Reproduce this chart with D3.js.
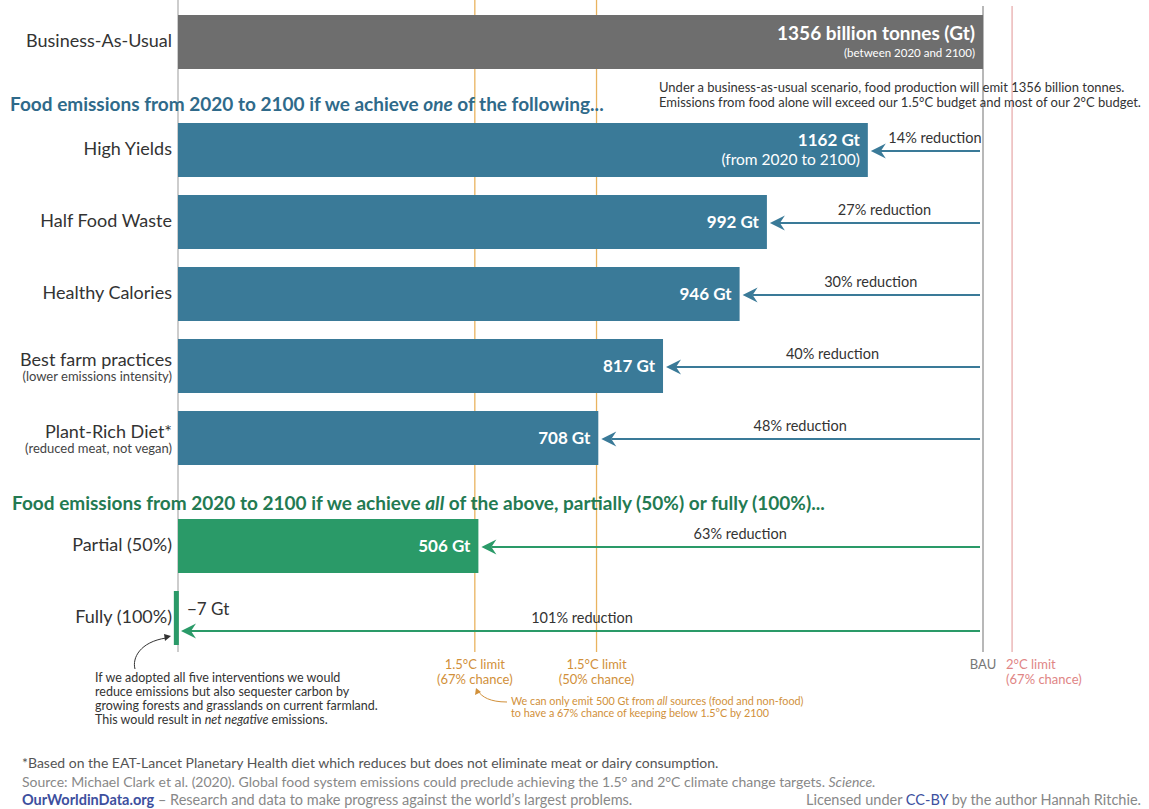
<!DOCTYPE html>
<html>
<head>
<meta charset="utf-8">
<script src="https://cdn.jsdelivr.net/npm/d3@7"></script>
<style>
  body { margin: 0; background: #fff; }
  svg { font-family: Lato, "Open Sans", sans-serif; }
</style>
</head>
<body>
<div id="chart"></div>
<script>
// data
const categories = ["Business-As-Usual", "High Yields", "Half Food Waste", "Healthy Calories",
  "Best farm practices", "Plant-Rich Diet*", "Partial (50%)", "Fully (100%)"];
const subLabels = ["", "", "", "", "(lower emissions intensity)", "(reduced meat, not vegan)", "", ""];
const groups = ["bau", "one", "one", "one", "one", "one", "all", "all"];
const emissions = [1356, 1162, 992, 946, 817, 708, 506, -7];
const reductions = [null, 14, 27, 30, 40, 48, 63, 101];
const limitValues = [500, 705];
const limitNames = ["(67% chance)", "(50% chance)"];
const twoDegree = 1405;

const width = 1149, height = 809;
const bauColor = "#6e6e6e", blue = "#3a7a98", green = "#2a9a68";
const orange = "#e9b35f", orangeText = "#d1903a";

const svg = d3.select("#chart").append("svg")
    .attr("width", width)
    .attr("height", height);

// x scale: Gt
const x = d3.scaleLinear().domain([0, 1356]).range([178, 983]);

// slots, with half a row extra when the section changes
let slots = [], s = 0;
groups.forEach(function(g, i) {
  if (i > 0 && g !== groups[i - 1]) s += 0.5;
  slots.push(s);
  s += 1;
});
const y = d3.scaleLinear().domain([0, 1]).range([15, 87]);
const barH = 54;
const lineBottom = 652;

const colorOf = function(g) { return g === "bau" ? bauColor : (g === "one" ? blue : green); };

// vertical reference lines (under bars)
svg.append("line").attr("x1", x(0)).attr("x2", x(0)).attr("y1", 0).attr("y2", lineBottom)
    .attr("stroke", "#bdbdbd").attr("stroke-width", 1.5);
svg.selectAll(".limit").data(limitValues).join("line")
    .attr("x1", d => x(d)).attr("x2", d => x(d))
    .attr("y1", 0).attr("y2", lineBottom)
    .attr("stroke", orange).attr("stroke-width", 1.3);
svg.append("line").attr("x1", x(1356)).attr("x2", x(1356)).attr("y1", 6).attr("y2", lineBottom)
    .attr("stroke", "#a0a0a0").attr("stroke-width", 1.5);
svg.append("line").attr("x1", x(twoDegree)).attr("x2", x(twoDegree)).attr("y1", 6).attr("y2", lineBottom)
    .attr("stroke", "#ebb8b8").attr("stroke-width", 1.5);

// bars
const rows = categories.map(function(c, i) {
  return {name: c, sub: subLabels[i], group: groups[i], value: emissions[i], red: reductions[i], slot: slots[i]};
});

svg.selectAll(".bar").data(rows).join("rect")
    .attr("x", d => Math.min(x(0), x(d.value)))
    .attr("width", d => Math.max(Math.abs(x(d.value) - x(0)), d.value < 0 ? 5 : 0))
    .attr("y", d => y(d.slot))
    .attr("height", barH)
    .attr("fill", d => colorOf(d.group));

// category labels
rows.forEach(function(d) {
  const cy = y(d.slot) + barH / 2;
  if (d.sub) {
    svg.append("text").attr("x", 172).attr("y", cy).attr("text-anchor", "end")
        .attr("font-size", 18).attr("fill", "#333").text(d.name);
    svg.append("text").attr("x", 172).attr("y", cy + 15).attr("text-anchor", "end")
        .attr("font-size", 13).attr("fill", "#444").text(d.sub);
  } else {
    svg.append("text").attr("x", 172).attr("y", cy + 5).attr("text-anchor", "end")
        .attr("font-size", 18).attr("fill", "#333").text(d.name);
  }
});

// value labels
rows.forEach(function(d, i) {
  const cy = y(d.slot) + barH / 2;
  if (d.group === "bau") {
    svg.append("text").attr("x", x(d.value) - 8).attr("y", cy - 2).attr("text-anchor", "end")
        .attr("font-size", 19).attr("font-weight", "bold").attr("fill", "#fff")
        .text(d.value + " billion tonnes (Gt)");
    svg.append("text").attr("x", x(d.value) - 8).attr("y", cy + 15).attr("text-anchor", "end")
        .attr("font-size", 11.5).attr("fill", "#fff").text("(between 2020 and 2100)");
  } else if (d.value < 0) {
    svg.append("text").attr("x", x(0) + 9).attr("y", cy - 3)
        .attr("font-size", 17).attr("fill", "#333").text("\u2212" + Math.abs(d.value) + " Gt");
  } else if (i === 1) {
    svg.append("text").attr("x", x(d.value) - 8).attr("y", cy - 4).attr("text-anchor", "end")
        .attr("font-size", 17).attr("font-weight", "bold").attr("fill", "#fff").text(d.value + " Gt");
    svg.append("text").attr("x", x(d.value) - 8).attr("y", cy + 15).attr("text-anchor", "end")
        .attr("font-size", 15.5).attr("fill", "#fff").text("(from 2020 to 2100)");
  } else {
    svg.append("text").attr("x", x(d.value) - 8).attr("y", cy + 6).attr("text-anchor", "end")
        .attr("font-size", 17).attr("font-weight", "bold").attr("fill", "#fff").text(d.value + " Gt");
  }
});

// reduction arrows
function arrowHead(tipX, tipY, color) {
  const p = d3.path();
  p.moveTo(tipX, tipY);
  p.lineTo(tipX + 15, tipY - 7.5);
  p.lineTo(tipX + 10, tipY);
  p.lineTo(tipX + 15, tipY + 7.5);
  p.closePath();
  svg.append("path").attr("d", p.toString()).attr("fill", color);
}
rows.filter(d => d.red !== null).forEach(function(d) {
  const color = colorOf(d.group);
  const tip = Math.max(x(d.value), x(0)) + 3;
  const ay = d.value < 0 ? y(d.slot) + barH / 2 + 13 : y(d.slot) + barH / 2 + 1;
  svg.append("line").attr("x1", tip + 10).attr("x2", x(1356) - 3)
      .attr("y1", ay).attr("y2", ay).attr("stroke", color).attr("stroke-width", 2);
  arrowHead(tip, ay, color);
  const mid = (tip + x(1356)) / 2 + (d.value < 0 ? 0 : 8);
  svg.append("text").attr("x", mid).attr("y", ay - 8).attr("text-anchor", "middle")
      .attr("font-size", 14.5).attr("fill", "#333").text(d.red + "% reduction");
});

// section titles
const t1 = svg.append("text").attr("x", 10).attr("y", 111).attr("font-size", 19)
    .attr("font-weight", "bold").attr("fill", "#2f6a8a");
t1.append("tspan").text("Food emissions from 2020 to 2100 if we achieve ");
t1.append("tspan").attr("font-style", "italic").text("one");
t1.append("tspan").text(" of the following...");

const t2 = svg.append("text").attr("x", 12).attr("y", 510).attr("font-size", 19)
    .attr("font-weight", "bold").attr("fill", "#237a52");
t2.append("tspan").text("Food emissions from 2020 to 2100 if we achieve ");
t2.append("tspan").attr("font-style", "italic").text("all");
t2.append("tspan").text(" of the above, partially (50%) or fully (100%)...");

// BAU note
svg.append("text").attr("x", 659).attr("y", 92).attr("font-size", 13).attr("fill", "#333")
    .text("Under a business-as-usual scenario, food production will emit 1356 billion tonnes.");
svg.append("text").attr("x", 659).attr("y", 107).attr("font-size", 13).attr("fill", "#333")
    .text("Emissions from food alone will exceed our 1.5\u00B0C budget and most of our 2\u00B0C budget.");

// limit labels
limitValues.forEach(function(v, i) {
  svg.append("text").attr("x", x(v)).attr("y", 669).attr("text-anchor", "middle")
      .attr("font-size", 13).attr("fill", orangeText).text("1.5\u00B0C limit");
  svg.append("text").attr("x", x(v)).attr("y", 684).attr("text-anchor", "middle")
      .attr("font-size", 13).attr("fill", orangeText).text(limitNames[i]);
});
svg.append("text").attr("x", x(1356)).attr("y", 669).attr("text-anchor", "middle")
    .attr("font-size", 13).attr("fill", "#777").text("BAU");
svg.append("text").attr("x", x(twoDegree) - 6).attr("y", 669)
    .attr("font-size", 13).attr("fill", "#e08585").text("2\u00B0C limit");
svg.append("text").attr("x", x(twoDegree) - 6).attr("y", 684)
    .attr("font-size", 13).attr("fill", "#e08585").text("(67% chance)");

// orange note with curved arrow
const n1 = svg.append("text").attr("x", 511).attr("y", 705).attr("font-size", 10.8).attr("fill", orangeText);
n1.append("tspan").text("We can only emit 500 Gt from ");
n1.append("tspan").attr("font-style", "italic").text("all");
n1.append("tspan").text(" sources (food and non-food)");
svg.append("text").attr("x", 511).attr("y", 717).attr("font-size", 10.8).attr("fill", orangeText)
    .text("to have a 67% chance of keeping below 1.5\u00B0C by 2100");
svg.append("path").attr("d", "M507,702 C490,702 482,697 478,691")
    .attr("fill", "none").attr("stroke", orangeText).attr("stroke-width", 1);
svg.append("path").attr("d", "M476,688 L475,695 L481,692 Z").attr("fill", orangeText);

// net negative note with curved arrow
const notes = ["If we adopted all five interventions we would",
  "reduce emissions but also sequester carbon by",
  "growing forests and grasslands on current farmland."];
notes.forEach(function(t, i) {
  svg.append("text").attr("x", 95).attr("y", 682 + i * 14).attr("font-size", 12.5)
      .attr("fill", "#333").text(t);
});
const n4 = svg.append("text").attr("x", 95).attr("y", 724).attr("font-size", 12.5).attr("fill", "#333");
n4.append("tspan").text("This would result in ");
n4.append("tspan").attr("font-style", "italic").text("net negative");
n4.append("tspan").text(" emissions.");
svg.append("path").attr("d", "M135,669 C132,658 140,642 166,638")
    .attr("fill", "none").attr("stroke", "#333").attr("stroke-width", 1);
svg.append("path").attr("d", "M171,636 L164,634 L165,641 Z").attr("fill", "#333");

// footer
svg.append("text").attr("x", 22).attr("y", 768).attr("font-size", 14).attr("fill", "#555")
    .text("*Based on the EAT-Lancet Planetary Health diet which reduces but does not eliminate meat or dairy consumption.");
const src = svg.append("text").attr("x", 22).attr("y", 787).attr("font-size", 14).attr("fill", "#888");
src.append("tspan").text("Source: Michael Clark et al. (2020). Global food system emissions could preclude achieving the 1.5\u00B0 and 2\u00B0C climate change targets. ");
src.append("tspan").attr("font-style", "italic").text("Science.");
const f3 = svg.append("text").attr("x", 22).attr("y", 805).attr("font-size", 14.5).attr("fill", "#888");
f3.append("tspan").attr("fill", "#3d4f9e").attr("font-weight", "bold").text("OurWorldinData.org");
f3.append("tspan").text(" \u2013 Research and data to make progress against the world\u2019s largest problems.");
const lic = svg.append("text").attr("x", 1141).attr("y", 805).attr("text-anchor", "end")
    .attr("font-size", 14.5).attr("fill", "#888");
lic.append("tspan").text("Licensed under ");
lic.append("tspan").attr("fill", "#3d4f9e").text("CC-BY");
lic.append("tspan").text(" by the author Hannah Ritchie.");
</script>
</body>
</html>
